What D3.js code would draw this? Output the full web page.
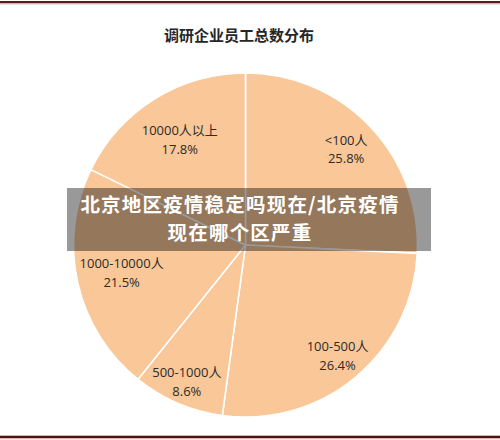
<!DOCTYPE html>
<html>
<head>
<meta charset="utf-8">
<script src="https://cdn.jsdelivr.net/npm/d3@7"></script>
<style>
  html, body { margin: 0; padding: 0; background: #ffffff; }
  svg { display: block; }
</style>
</head>
<body>
<script>
// ---- data ----
const categories = ["<100人", "100-500人", "500-1000人", "1000-10000人", "10000人以上"];
const percentLabels = ["25.8%", "26.4%", "8.6%", "21.5%", "17.8%"];
const values = [25.8, 26.4, 8.6, 21.5, 17.8];
const titleText = "调研企业员工总数分布";
const bannerLines = ["北京地区疫情稳定吗现在/北京疫情", "现在哪个区严重"];

// ---- layout ----
const W = 500, H = 440;
const cx = 245.5, cy = 245, R = 172;
const labelRadii = [139, 144, 149, 127, 124];

const svg = d3.select("body").append("svg").attr("width", W).attr("height", H);

svg.append("rect").attr("width", W).attr("height", H).attr("fill", "#ffffff");

// top / bottom border lines
svg.append("rect").attr("x", 0).attr("y", 1).attr("width", W).attr("height", 2.4).attr("fill", "#5a1c1c");
svg.append("rect").attr("x", 0).attr("y", 3.4).attr("width", W).attr("height", 1).attr("fill", "#d9b5b0");
svg.append("rect").attr("x", 0).attr("y", 435.7).attr("width", W).attr("height", 2.4).attr("fill", "#4e1212");
svg.append("rect").attr("x", 0).attr("y", 438.1).attr("width", W).attr("height", 1.2).attr("fill", "#d9b0ab");

// title
svg.append("text")
  .attr("x", 239).attr("y", 41)
  .attr("text-anchor", "middle")
  .attr("font-family", "'Noto Sans CJK SC', sans-serif")
  .attr("font-weight", 700)
  .attr("font-size", 15)
  .attr("fill", "#262626")
  .text(titleText);

// pie
const pie = d3.pie().sort(null).value(d => d)(values);
const arc = d3.arc().innerRadius(0).outerRadius(R);
const g = svg.append("g").attr("transform", `translate(${cx},${cy})`);

g.selectAll("path.slice").data(pie).join("path")
  .attr("class", "slice")
  .attr("d", arc)
  .attr("fill", "#f9c798")
  .attr("stroke", "#ffffff")
  .attr("stroke-width", 1.6)
  .attr("stroke-linejoin", "round");

pie.forEach((d, i) => {
  const la = d3.arc().innerRadius(labelRadii[i]).outerRadius(labelRadii[i]);
  const [x, y] = la.centroid(d);
  const t = g.append("text")
    .attr("text-anchor", "middle")
    .attr("font-family", "'Open Sans', 'Noto Sans CJK SC', sans-serif")
    .attr("font-size", 13)
    .attr("fill", "#2b2b2b");
  t.append("tspan").attr("x", x).attr("y", y - 4.5).text(categories[i]);
  t.append("tspan").attr("x", x).attr("y", y + 14).text(percentLabels[i]);
});

// overlay banner
svg.append("rect")
  .attr("x", 67).attr("y", 188).attr("width", 364).attr("height", 63)
  .attr("fill", "#000000").attr("fill-opacity", 0.4);

bannerLines.forEach((line, i) => {
  svg.append("text")
    .attr("x", 240).attr("y", 211.5 + i * 28.5)
    .attr("text-anchor", "middle")
    .attr("font-family", "'Noto Sans CJK SC', sans-serif")
    .attr("font-weight", 700)
    .attr("font-size", 19.5)
    .attr("letter-spacing", 1.2)
    .attr("fill", "#ffffff")
    .text(line);
});
</script>
</body>
</html>
